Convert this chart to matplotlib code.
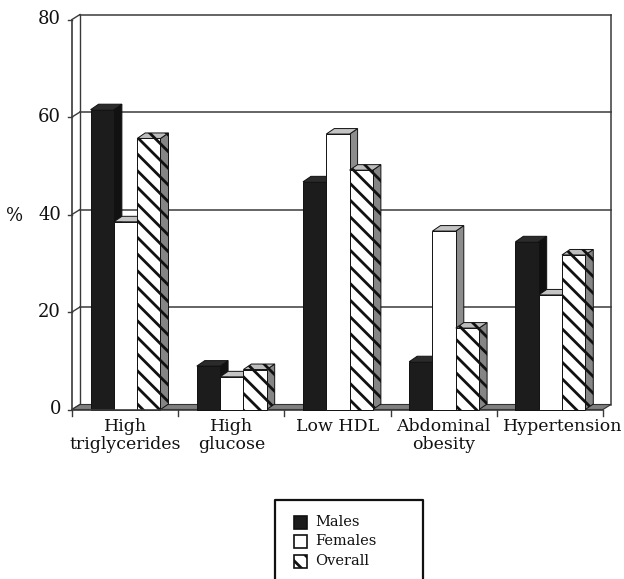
import matplotlib
matplotlib.use("Agg")
import matplotlib.pyplot as plt
from matplotlib.patches import Polygon, Rectangle
from matplotlib.lines import Line2D

# ---------------- data ----------------
categories = ["High\ntriglycerides", "High\nglucose", "Low HDL", "Abdominal\nobesity", "Hypertension"]
series_names = ["Males", "Females", "Overall"]
males = [61.5, 8.9, 46.7, 9.8, 34.4]
females = [38.5, 6.7, 56.5, 36.6, 23.5]
overall = [55.6, 8.2, 49.1, 16.7, 31.7]
yticks = [0, 20, 40, 60, 80]
y_label = "%"

plt.rcParams['font.family'] = ['DejaVu Serif']
plt.rcParams['hatch.linewidth'] = 2.0

W, H = 624, 579
fig = plt.figure(figsize=(W / 100, H / 100), dpi=100)


def fx(px):
    return px / W


def fy(py):
    return 1 - py / H


x0px, x1px = 72, 603
y0px, y1px = 409.5, 19.5
ymax = yticks[-1]
ax = fig.add_axes([fx(x0px), fy(y0px), (x1px - x0px) / W, (y0px - y1px) / H])
ncat = len(categories)
ax.set_xlim(0, ncat)
ax.set_ylim(0, ymax)
ax.axis('off')

pxx = (x1px - x0px) / ncat
pxy = (y0px - y1px) / ymax
wall_dx = 8 / pxx
wall_dy = 5 / pxy
bar_dx = 8 / pxx
bar_dy = 5.5 / pxy

line_col = '#3a3a3a'


def seg(x, y, **kw):
    ax.add_line(Line2D(x, y, clip_on=False, **kw))


# back wall frame and gridlines
for v in yticks[1:]:
    seg([wall_dx, ncat + wall_dx], [v + wall_dy, v + wall_dy], color=line_col, lw=1.1, zorder=1)
seg([wall_dx, wall_dx], [wall_dy, ymax + wall_dy], color=line_col, lw=1.0, zorder=1)
seg([ncat + wall_dx, ncat + wall_dx], [wall_dy, ymax + wall_dy], color=line_col, lw=1.1, zorder=1)
for v in yticks:
    seg([0, wall_dx], [v, v + wall_dy], color=line_col, lw=1.0, zorder=1)
    seg([0, -4 / pxx], [v, v], color=line_col, lw=1.0, zorder=1)

# floor
ax.add_patch(Polygon([(0, 0), (ncat, 0), (ncat + wall_dx, wall_dy), (wall_dx, wall_dy)],
                     closed=True, facecolor='#7f7f7f', edgecolor='#333333', lw=0.8,
                     zorder=2, clip_on=False))

# front axes
seg([0, 0], [0, ymax], color=line_col, lw=1.2, zorder=6)
seg([0, ncat], [0, 0], color=line_col, lw=1.2, zorder=6)
for i in range(ncat + 1):
    seg([i, i], [0, -6 / pxy], color=line_col, lw=1.0, zorder=6)

# bars
bw = 0.2194
start = 0.175
styles = [
    dict(front='#1c1c1c', top='#2b2b2b', side='#111111', hatch=None),
    dict(front='#ffffff', top='#c4c4c4', side='#8c8c8c', hatch=None),
    dict(front='#ffffff', top='#bdbdbd', side='#858585', hatch='\\\\'),
]
all_series = [males, females, overall]
z = 3
for i in range(ncat):
    for s, vals in enumerate(all_series):
        v = vals[i]
        st = styles[s]
        x = i + start + s * bw
        kw = dict(edgecolor='#111111', lw=0.7, clip_on=False, hatch=st['hatch'])
        front = Polygon([(x, 0), (x + bw, 0), (x + bw, v), (x, v)], closed=True,
                        facecolor=st['front'], zorder=z, **kw)
        top = Polygon([(x, v), (x + bw, v), (x + bw + bar_dx, v + bar_dy), (x + bar_dx, v + bar_dy)],
                      closed=True, facecolor=st['top'], zorder=z, **kw)
        side = Polygon([(x + bw, 0), (x + bw + bar_dx, bar_dy), (x + bw + bar_dx, v + bar_dy), (x + bw, v)],
                       closed=True, facecolor=st['side'], zorder=z, **kw)
        ax.add_patch(side)
        ax.add_patch(top)
        ax.add_patch(front)
        z += 1

# y tick labels
for v in yticks:
    py = y0px - v * pxy
    fig.text(fx(61), fy(py), str(v), ha='right', va='center', fontsize=13, color='#111111')
fig.text(fx(15), fy(216), y_label, ha='center', va='center', fontsize=13, color='#111111')

# category labels (last one nudged right as in the original rendering)
label_nudge = [0, 0, 0, 0, 13]
for i, c in enumerate(categories):
    px = x0px + (i + 0.5) * pxx + label_nudge[i]
    fig.text(fx(px), fy(418), c, ha='center', va='top', fontsize=12.5,
             linespacing=1.1, color='#111111')

# legend (manual box, bottom cut by figure edge)
box = Line2D([fx(275), fx(275), fx(423), fx(423)], [fy(585), fy(500), fy(500), fy(585)],
             transform=fig.transFigure, color='#111111', lw=1.6)
fig.add_artist(box)
rows = [522, 541, 561]
leg_styles = [dict(fc='#1c1c1c', hatch=None), dict(fc='#ffffff', hatch=None),
              dict(fc='#ffffff', hatch='\\\\')]
for name, ry, ls in zip(series_names, rows, leg_styles):
    r = Rectangle((fx(294), fy(ry + 6.5)), 13 / W, 13 / H, transform=fig.transFigure,
                  facecolor=ls['fc'], edgecolor='#111111', lw=1.2, hatch=ls['hatch'])
    fig.add_artist(r)
    fig.text(fx(315), fy(ry), name, ha='left', va='center', fontsize=10.5, color='#111111')

fig.savefig('out.png', dpi=100)
